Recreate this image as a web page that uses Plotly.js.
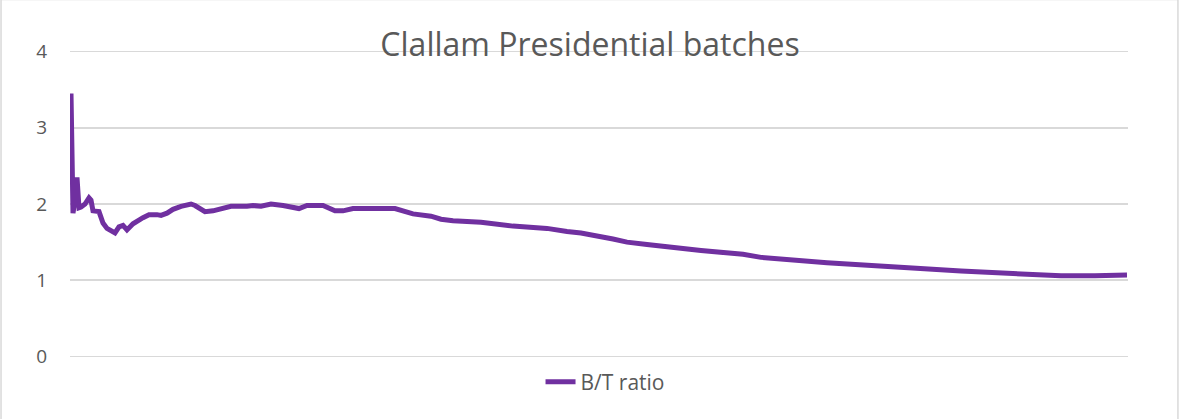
<!DOCTYPE html>
<html>
<head>
<meta charset="utf-8">
<script src="https://cdn.plot.ly/plotly-3.0.1.min.js"></script>
<style>
  html, body { margin: 0; padding: 0; background: #fff; }
  #chart { width: 1180px; height: 419px; }
</style>
</head>
<body>
<div id="chart"></div>
<script>
// batch number and B/T ratio
const batches = [
  1, 2, 3, 4, 5, 6, 8, 10, 11, 12, 15, 17, 19, 22, 23, 25, 27, 29, 32, 37,
  40, 44, 46, 49, 52, 56, 61, 63, 66, 68, 72, 76, 81, 89, 92, 96, 101, 107,
  115, 119, 127, 133, 137, 142, 151, 156, 163, 172, 181, 186, 192, 206, 222,
  239, 249, 256, 272, 279, 289, 306, 316, 337, 346, 379, 412, 446, 479, 496,
  513, 529
];
const ratios = [
  3.45, 1.88, 2.05, 2.35, 1.95, 1.96, 2.00, 2.08, 2.05, 1.91, 1.90, 1.75,
  1.68, 1.64, 1.62, 1.70, 1.72, 1.66, 1.74, 1.82, 1.86, 1.86, 1.85, 1.88,
  1.93, 1.97, 2.00, 1.98, 1.92, 1.90, 1.91, 1.93, 1.97, 1.97, 1.98, 1.97,
  2.00, 1.98, 1.94, 1.98, 1.98, 1.91, 1.91, 1.94, 1.95, 1.94, 1.94, 1.87,
  1.84, 1.80, 1.78, 1.76, 1.71, 1.68, 1.64, 1.62, 1.54, 1.50, 1.47, 1.43,
  1.39, 1.34, 1.30, 1.23, 1.17, 1.12, 1.08, 1.06, 1.06, 1.07
];
const yTicks = [0, 1, 2, 3, 4];

const textColor = '#595959';
const gridColor = '#d9d9d9';
const fontFamily = '"Open Sans", "Noto Sans", sans-serif';

const trace = {
  x: batches,
  y: ratios,
  name: 'B/T ratio',
  mode: 'lines',
  line: { color: '#7030a0', width: 5, shape: 'linear' },
  hoverinfo: 'skip'
};

const layout = {
  width: 1180,
  height: 419,
  margin: { l: 70, r: 52, t: 50, b: 61 },
  paper_bgcolor: '#ffffff',
  plot_bgcolor: '#ffffff',
  font: { family: fontFamily, color: textColor, size: 18 },
  title: {
    text: 'Clallam Presidential batches',
    font: { family: fontFamily, size: 32, color: textColor },
    x: 0.5,
    xref: 'container',
    xanchor: 'center',
    y: 0.8926,
    yref: 'container',
    yanchor: 'middle'
  },
  xaxis: {
    range: [0.5, 529.5],
    showgrid: false,
    zeroline: false,
    showline: false,
    showticklabels: false,
    ticks: ''
  },
  yaxis: {
    // small pad so the 0 and 4 gridlines are drawn
    range: [-0.02, 4.02],
    tickvals: yTicks,
    ticktext: yTicks.map(String),
    showgrid: true,
    gridcolor: gridColor,
    gridwidth: 1.5,
    zeroline: false,
    showline: false,
    ticks: '',
    ticklabelstandoff: 22,
    tickfont: { family: fontFamily, size: 19, color: textColor }
  },
  showlegend: true,
  legend: {
    orientation: 'h',
    x: 0.5057,
    xanchor: 'center',
    y: 0.088,
    yref: 'container',
    yanchor: 'middle',
    font: { family: fontFamily, size: 21, color: textColor },
    bgcolor: 'rgba(0,0,0,0)'
  },
  shapes: [
    {
      // outer chart border
      type: 'rect',
      xref: 'paper',
      yref: 'paper',
      x0: -0.0652,
      x1: 1.0472,
      y0: -0.25,
      y1: 1.164,
      line: { color: '#d9d9d9', width: 1.5 },
      fillcolor: 'rgba(0,0,0,0)',
      layer: 'below'
    }
  ]
};

Plotly.newPlot('chart', [trace], layout, { staticPlot: true, displayModeBar: false });
</script>
</body>
</html>
